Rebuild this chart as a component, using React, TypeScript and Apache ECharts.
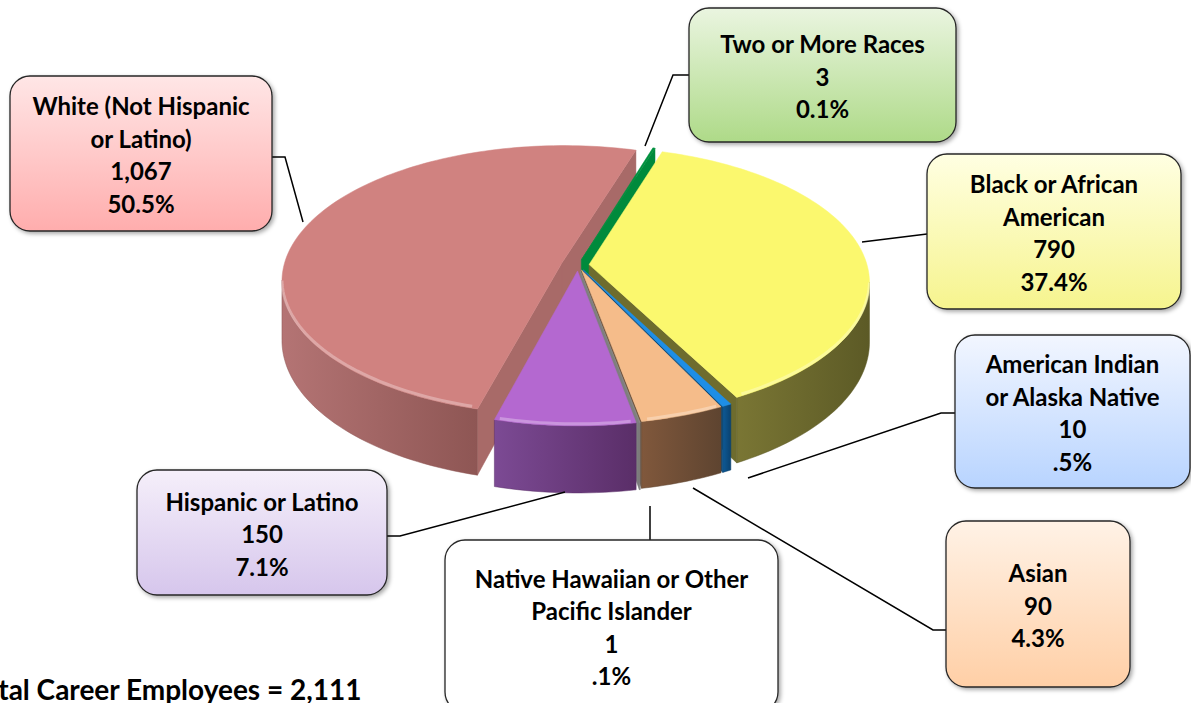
import React, { useEffect, useRef } from "react";
import * as echarts from "echarts";

// ---------- data ----------
const categories = [
  "Two or More Races",
  "Black or African\nAmerican",
  "American Indian\nor Alaska Native",
  "Asian",
  "Native Hawaiian or Other\nPacific Islander",
  "Hispanic or Latino",
  "White (Not Hispanic\nor Latino)",
];
const counts = [3, 790, 10, 90, 1, 150, 1067];
const percentLabels = ["0.1%", "37.4%", ".5%", "4.3%", ".1%", "7.1%", "50.5%"];
const totalLabel = "Total Career Employees";

// ---------- styles / layout ----------
const topColors = ["#00913E", "#FBF86E", "#1E8EE6", "#F5BC8A", "#8A8A8A", "#B468D0", "#D08280"];
const wallColors = [
  ["#00863A", "#00863A"],
  ["#7A7634", "#5C5A26"],
  ["#0E5A96", "#0A4270"],
  ["#80583C", "#5E4430"],
  ["#9A9A9A", "#707070"],
  ["#7C4A94", "#5A2E68"],
  ["#B47474", "#8E5654"],
];
const radialColors = ["#008A3C", "#6E6C2E", "#0C4A7C", "#6E5038", "#7E7E7E", "#6A3C7C", "#A86A68"];
const explodes = [0.04, 0.04, 0.04, 0.04, 0.045, 0.045, 0.06];
const boxFills = [
  ["#EAF5E0", "#AEDA88"],
  ["#FFFFE2", "#F6F48E"],
  ["#F2F6FF", "#B8D4FF"],
  ["#FFF2E6", "#FFCFA6"],
  ["#FFFFFF", "#FFFFFF"],
  ["#F5EFFA", "#D6C6EC"],
  ["#FFE6E6", "#FFADAD"],
];
const boxRects = [
  [689, 8, 267, 134],
  [927, 154, 254, 155],
  [955, 335, 235, 153],
  [946, 521, 184, 166],
  [445, 540, 333, 172],
  [137, 470, 250, 125],
  [10, 76, 262, 155],
];
const leaders = [
  [[689, 75], [673, 75], [645, 146]],
  [[927, 234], [862, 242]],
  [[955, 413], [941, 413], [748, 478]],
  [[946, 630], [933, 630], [693, 488]],
  [[650, 540], [650, 506]],
  [[387, 536], [400, 536], [565, 492]],
  [[272, 157], [285, 157], [303, 222]],
];

const CX = 578, CY = 265, RX = 278, RY = 133, PERSP = 0.13, DEPTH = 58, START = 17;
const FONT = "Lato, 'Open Sans', sans-serif";

const total = counts.reduce((a, b) => a + b, 0);
const starts: number[] = [];
{
  let acc = 0;
  counts.forEach((c) => { starts.push(acc); acc += c; });
}
const rad = (d: number) => (d * Math.PI) / 180;
function proj(u: number, w: number, h: number) {
  const k = 1 / (1 + PERSP * w);
  return [CX + RX * u * k, CY - RY * w * k + DEPTH * h * k];
}
const keyOf = (a: number) => {
  const x = ((a % 360) + 360) % 360;
  return x <= 180 ? x : 360 - x;
};

function renderItem(params: any, api: any) {
  const i = params.dataIndex;
  const v = api.value(0);
  const a0 = START + (starts[i] / total) * 360;
  const a1 = a0 + (v / total) * 360;
  const mid = (a0 + a1) / 2;
  const E = explodes[i];
  const eu = E * Math.sin(rad(mid));
  const ew = E * Math.cos(rad(mid));
  const rim = (a: number, h: number) => proj(eu + Math.sin(rad(a)), ew + Math.cos(rad(a)), h);
  const apex = (h: number) => proj(eu, ew, h);
  const arc = (s: number, e: number, h: number) => {
    const n = Math.max(1, Math.ceil((e - s) / 1.5));
    const pts: number[][] = [];
    for (let j = 0; j <= n; j++) pts.push(rim(s + ((e - s) * j) / n, h));
    return pts;
  };
  const camW = -1 / PERSP;
  const children: any[] = [];
  const s0 = -Math.cos(rad(a0)) * (0 - eu) + Math.sin(rad(a0)) * (camW - ew);
  if (s0 > 0) {
    children.push({
      type: "polygon",
      z2: 100 + keyOf(a0),
      shape: { points: [apex(0), rim(a0, 0), rim(a0, 1), apex(1)] },
      style: { fill: radialColors[i], stroke: radialColors[i], lineWidth: 0.5 },
    });
  }
  const s1 = Math.cos(rad(a1)) * (0 - eu) - Math.sin(rad(a1)) * (camW - ew);
  if (s1 > 0) {
    children.push({
      type: "polygon",
      z2: 100 + keyOf(a1),
      shape: { points: [apex(0), rim(a1, 0), rim(a1, 1), apex(1)] },
      style: { fill: radialColors[i], stroke: radialColors[i], lineWidth: 0.5 },
    });
  }
  const lim = (Math.acos(-PERSP) * 180) / Math.PI;
  const os = Math.max(a0, lim), oe = Math.min(a1, 360 - lim);
  if (oe > os) {
    const topPts = arc(os, oe, 0);
    const botPts = arc(os, oe, 1).reverse();
    children.push({
      type: "polygon",
      z2: 400,
      shape: { points: [...topPts, ...botPts] },
      style: {
        fill: new echarts.graphic.LinearGradient(0, 0, 1, 0, [
          { offset: 0, color: wallColors[i][0] },
          { offset: 1, color: wallColors[i][1] },
        ]),
        stroke: wallColors[i][1],
        lineWidth: 0.5,
      },
    });
  }
  children.push({
    type: "polygon",
    z2: 1000,
    shape: { points: [apex(0), ...arc(a0, a1, 0)] },
    style: { fill: topColors[i], stroke: topColors[i], lineWidth: 0.5 },
  });
  if (oe - os > 3) {
    children.push({
      type: "polyline",
      z2: 1001,
      shape: { points: arc(os + 1, oe - 1, 0).map((p) => [p[0], p[1] - 2]) },
      style: { stroke: "rgba(255,255,255,0.3)", lineWidth: 3, fill: null },
    });
  }
  return { type: "group", children };
}

export default function App() {
  const ref = useRef<HTMLDivElement>(null);
  useEffect(() => {
    document.body.style.margin = "0";
    const chart = echarts.init(ref.current!, undefined, { renderer: "svg" });
    const graphics: any[] = [];
    categories.forEach((name, i) => {
      const [x, y, w, h] = boxRects[i];
      graphics.push({
        type: "rect",
        z: 10,
        shape: { x, y, width: w, height: h, r: 20 },
        style: {
          fill: new echarts.graphic.LinearGradient(0, 0, 0, 1, [
            { offset: 0, color: boxFills[i][0] },
            { offset: 1, color: boxFills[i][1] },
          ]),
          stroke: "#262626",
          lineWidth: 1.3,
          shadowBlur: 4,
          shadowOffsetX: 2,
          shadowOffsetY: 2,
          shadowColor: "rgba(0,0,0,0.35)",
        },
      });
      const lines = [...name.split("\n"), counts[i].toLocaleString("en-US"), percentLabels[i]];
      graphics.push({
        type: "text",
        z: 11,
        x: x + w / 2,
        y: y + h / 2 + 1,
        style: {
          text: lines.join("\n"),
          fontFamily: FONT,
          fontWeight: "bold",
          fontSize: 24,
          lineHeight: 32.5,
          fill: "#000",
          align: "center",
          verticalAlign: "middle",
        },
      });
      graphics.push({
        type: "polyline",
        z: 9,
        shape: { points: leaders[i] },
        style: { stroke: "#000", lineWidth: 1.5, fill: null },
      });
    });
    graphics.push({
      type: "text",
      z: 11,
      x: -31,
      y: 689,
      style: {
        text: `${totalLabel} = ${total.toLocaleString("en-US")}`,
        fontFamily: FONT,
        fontWeight: "bold",
        fontSize: 28,
        fill: "#000",
        align: "left",
        verticalAlign: "middle",
      },
    });
    chart.setOption({
      animation: false,
      backgroundColor: "#fff",
      series: [
        {
          type: "custom",
          coordinateSystem: "none",
          silent: true,
          data: counts.map((c, i) => ({ name: categories[i], value: [c, i] })),
          renderItem,
        },
      ],
      graphic: graphics,
    });
    return () => chart.dispose();
  }, []);
  return <div ref={ref} style={{ width: 1191, height: 703 }} />;
}
